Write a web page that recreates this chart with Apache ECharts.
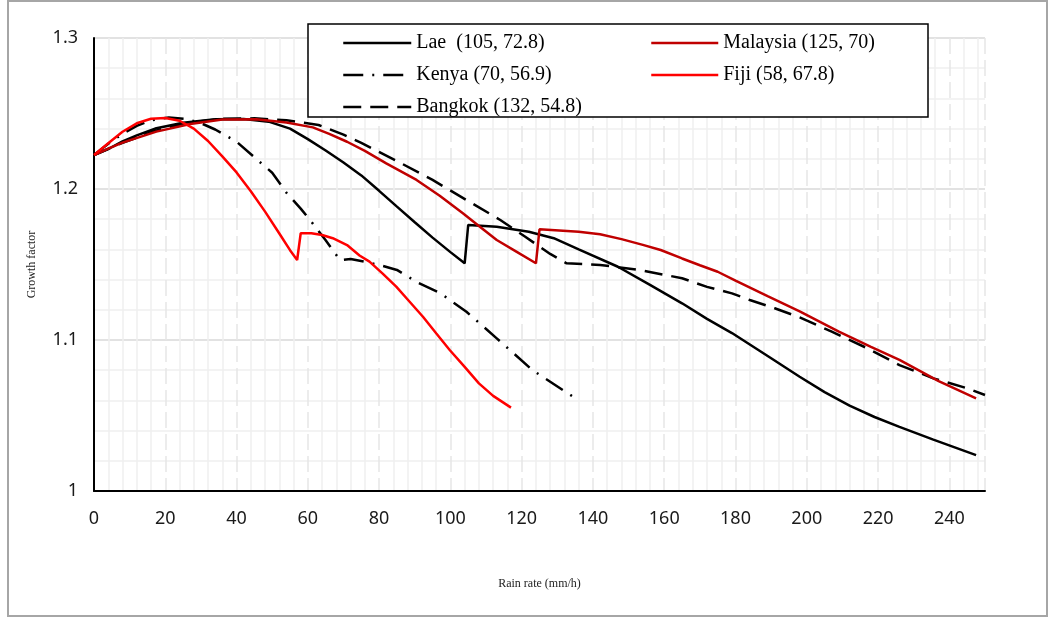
<!DOCTYPE html>
<html><head><meta charset="utf-8">
<script src="https://cdn.jsdelivr.net/npm/echarts@6/dist/echarts.min.js"></script>
<style>html,body{margin:0;padding:0;background:#fff}#c{width:1052px;height:619px}</style>
</head><body><div id="c"></div><script>
// Rain rate (mm/h) and growth factor values per location
const laeX = [0,4,8,12,17.5,25,34,42,49,55,60,65,70,75,80,85,90,95,100,104,105,113,122,129,136,147,156,165,172,179,190,198,205,212,219,226,235.5,247.5];
const laeY = [1.2225,1.2265,1.2315,1.2355,1.2402,1.2439,1.2462,1.2464,1.2446,1.2400,1.2330,1.2255,1.2175,1.2090,1.1988,1.1883,1.1780,1.1678,1.1582,1.1508,1.1762,1.1750,1.1717,1.1674,1.1600,1.1485,1.1365,1.1243,1.1140,1.1046,1.0879,1.0757,1.0655,1.0565,1.0490,1.0425,1.0340,1.0238];
const kenyaX = [0,4,8,12,16,21,26,30,34,40,45,50,54,58,61,65,69,72,76,80,85,91,97,104.5,113,123,134.4];
const kenyaY = [1.2225,1.2300,1.2365,1.2418,1.2455,1.2474,1.2464,1.2436,1.2394,1.2313,1.2210,1.2108,1.1975,1.1870,1.1783,1.1660,1.1530,1.1536,1.1518,1.1497,1.1464,1.1378,1.1313,1.1187,1.1011,1.0801,1.0625];
const bangkokX = [0,4,8,17,27,36,45,54,63,70,75,85,95,104.5,114,121,128,132.6,137,142,153,165,172,179,184,191,198,207,217,226,235.5,245,250];
const bangkokY = [1.2225,1.2266,1.2305,1.2385,1.2440,1.2465,1.2468,1.2455,1.2424,1.2360,1.2305,1.2185,1.2060,1.1927,1.1795,1.1684,1.1570,1.1508,1.1504,1.1497,1.1464,1.1409,1.1352,1.1309,1.1265,1.1210,1.1150,1.1055,1.0945,1.0834,1.0746,1.0680,1.0636];
const malaysiaX = [0,4,8,17.5,27,36,45.5,54,61.4,66,71,76,82,90.5,97,103.5,108,113,118.5,124,125,136,142,148,154,159,165,170,175,180,189,198,209,218,226,237,247.5];
const malaysiaY = [1.2225,1.2268,1.2307,1.2380,1.2430,1.2460,1.2462,1.2440,1.2408,1.2365,1.2313,1.2252,1.2170,1.2060,1.1955,1.1839,1.1755,1.1662,1.1585,1.1508,1.1733,1.1717,1.1700,1.1668,1.1630,1.1596,1.1540,1.1495,1.1452,1.1393,1.1290,1.1190,1.1055,1.0955,1.0868,1.0727,1.0614];
const fijiX = [0,4,8,12,16,20,24,28,32,36,40,44,48,52,55,57,58,61,64,67,71,74.5,77.3,81,84.8,88.5,92.3,96,99.8,104,108,112,117];
const fijiY = [1.2225,1.2303,1.2379,1.2435,1.2465,1.2470,1.2452,1.2400,1.2318,1.2216,1.2110,1.1985,1.1850,1.1705,1.1595,1.1530,1.1707,1.1707,1.1695,1.1674,1.1629,1.1560,1.1519,1.1440,1.1353,1.1255,1.1154,1.1045,1.0934,1.0822,1.0713,1.0630,1.0552];

const names = ['Lae  (105, 72.8)','Kenya (70, 56.9)','Bangkok (132, 54.8)','Malaysia (125, 70)','Fiji (58, 67.8)'];
const yTicks = {1:'1', 1.1:'1.1', 1.2:'1.2', 1.3:'1.3'};

const pairs = (xs, ys) => xs.map((x, i) => [x, ys[i]]);
const mk = (name, xs, ys, color, type) => ({
  name, type: 'line', data: pairs(xs, ys), symbol: 'none', showSymbol: false,
  smooth: false, lineStyle: { color, width: 2.5, type }, itemStyle: { color }, z: 2
});

const legText = { fontFamily: 'Liberation Serif', fontSize: 20, color: '#000', lineHeight: 20 };
const legCommon = { orient: 'vertical', itemHeight: 20, itemGap: 12, textStyle: legText, z: 5,
  itemStyle: { opacity: 0 }, lineStyle: { width: 2.5 } };
const chart = echarts.init(document.getElementById('c'), null, { renderer: 'canvas' });
chart.setOption({
  animation: false,
  backgroundColor: '#fff',
  grid: { left: 94, right: 67, top: 38, bottom: 128 },
  graphic: [
    { type: 'rect', shape: { x: 8, y: 1, width: 1039, height: 615 }, style: { fill: 'none', stroke: '#a6a6a6', lineWidth: 2 }, z: 0 },
    { type: 'rect', shape: { x: 308, y: 24, width: 620, height: 93 }, style: { fill: '#fff', stroke: '#000', lineWidth: 1.5 }, z: 3 }
  ],
  legend: [
    Object.assign({ data: [names[0], names[1], names[2]], left: 337, top: 28, itemWidth: 68 }, legCommon),
    Object.assign({ data: [names[3], names[4]], left: 645, top: 28, itemWidth: 67 }, legCommon)
  ],
  xAxis: {
    type: 'value', min: 0, max: 250, interval: 20,
    name: 'Rain rate (mm/h)', nameLocation: 'middle', nameGap: 87,
    nameTextStyle: { fontFamily: 'Liberation Serif', fontSize: 12, color: '#222' },
    axisLine: { show: true, onZero: false, lineStyle: { color: '#000', width: 2 } },
    axisTick: { show: false },
    axisLabel: { fontFamily: 'Noto Sans', fontSize: 18, color: '#1a1a1a', margin: 19, showMaxLabel: false },
    splitLine: { show: true, lineStyle: { color: '#e6e6e6', width: 1.5, type: [16, 6] } },
    minorTick: { show: false, splitNumber: 5 },
    minorSplitLine: { show: true, lineStyle: { color: '#f0f0f0', width: 1.5 } }
  },
  yAxis: {
    type: 'value', min: 1, max: 1.3, interval: 0.1,
    name: 'Growth factor', nameLocation: 'middle', nameGap: 56,
    nameTextStyle: { fontFamily: 'Liberation Serif', fontSize: 12, color: '#222' },
    axisLine: { show: true, onZero: false, lineStyle: { color: '#000', width: 2 } },
    axisTick: { show: false },
    axisLabel: { fontFamily: 'Noto Sans', fontSize: 18, color: '#1a1a1a', margin: 16,
      formatter: v => yTicks[Math.round(v * 10) / 10] || '' },
    splitLine: { show: true, lineStyle: { color: '#d9d9d9', width: 1.5 } },
    minorTick: { show: false, splitNumber: 5 },
    minorSplitLine: { show: true, lineStyle: { color: '#f0f0f0', width: 1.5 } }
  },
  series: [
    mk(names[0], laeX, laeY, '#000', 'solid'),
    mk(names[1], kenyaX, kenyaY, '#000', [20, 9, 2, 9]),
    mk(names[2], bangkokX, bangkokY, '#000', [18, 9]),
    mk(names[3], malaysiaX, malaysiaY, '#c00000', 'solid'),
    mk(names[4], fijiX, fijiY, '#ff0000', 'solid')
  ]
});
</script></body></html>
